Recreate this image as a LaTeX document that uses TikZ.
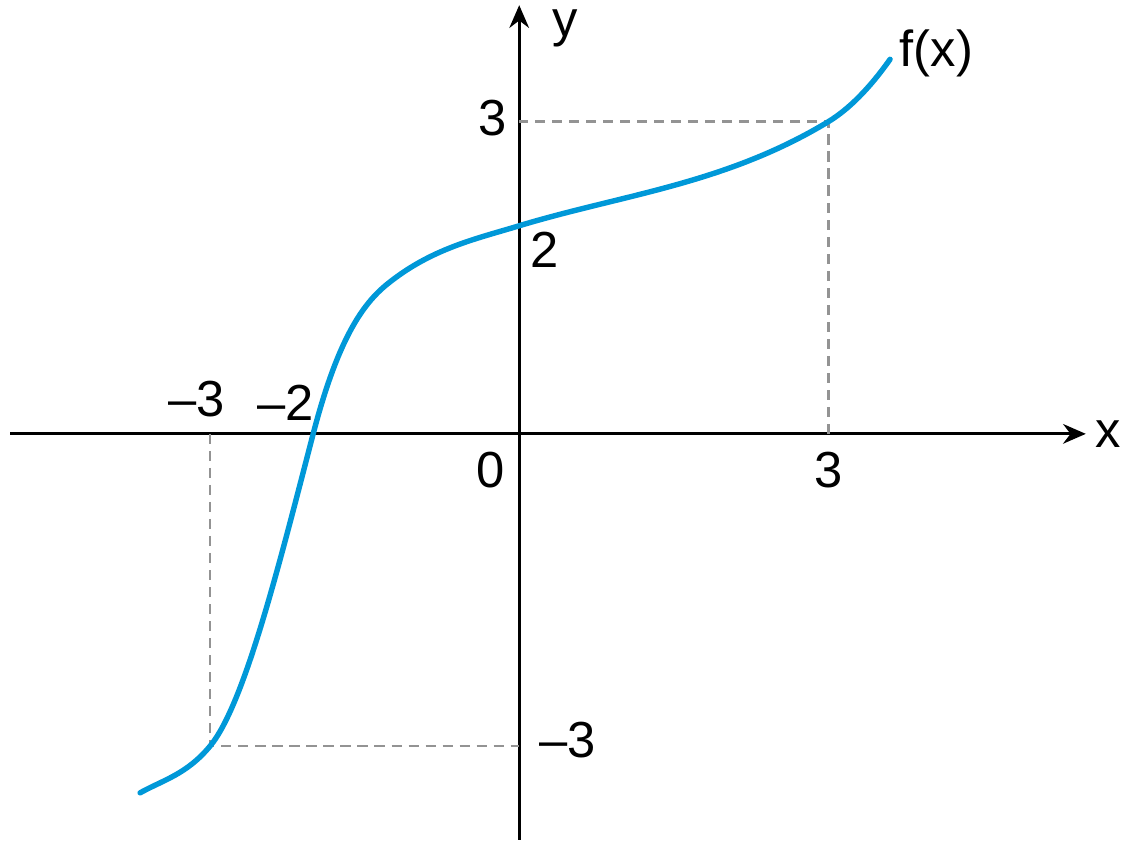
\documentclass[tikz,border=0pt]{standalone}
\usepackage{fontspec}
\setmainfont{Liberation Sans}
\usetikzlibrary{arrows.meta,positioning}
\definecolor{curveblue}{RGB}{0,152,216}

\begin{document}
\begin{tikzpicture}[y=1.01cm,
  axis/.style={-{Stealth[length=2.2mm, width=1.9mm]}, line width=0.9pt},
  guide/.style={gray!85, line width=0.7pt, dash pattern=on 2.8pt off 1.9pt},
  graph/.style={curveblue, line width=1.5pt, line cap=round},
  lab/.style={font=\fontsize{14}{16}\selectfont, inner sep=0pt}]
\useasboundingbox (-5.04,-3.95) rectangle (5.89,4.17);
% Axes
\coordinate (xl) at (-4.94,0);
\coordinate (xr) at (5.5,0);
\coordinate (yb) at (0,-3.9);
\coordinate (yt) at (0,4.12);
\draw[axis] (xl) -- (xr);
\draw[axis] (yb) -- (yt);
\node[lab] (xlab) at (5.72,0) {x};
\node[lab] (ylab) at (0.45,3.9) {y};
% Guide lines
\coordinate (a3) at (3,0);
\coordinate (p3) at (3,3);
\coordinate (b3) at (0,3);
\coordinate (am3) at (-3,0);
\coordinate (pm3) at (-3,-3);
\coordinate (bm3) at (0,-3);
\draw[guide] (a3) -- (p3) -- (b3);
\draw[guide] (am3) -- (pm3) -- (bm3);
% Curve
\coordinate (c0) at (-3.68,-3.45);
\coordinate (cz) at (-2,0);
\coordinate (cb) at (-1.28,1.44);
\coordinate (c2) at (0,2);
\coordinate (c4) at (3.6,3.6);
\draw[graph] (c0) .. controls (-3.453,-3.325) and (-3.227,-3.272) .. (pm3)
  .. controls (-2.667,-2.6) and (-2.333,-1.267) .. (cz)
  .. controls (-1.76,0.912) and (-1.52,1.248) .. (cb)
  .. controls (-0.853,1.781) and (-0.427,1.872) .. (c2)
  .. controls (1,2.3) and (2,2.4) .. (p3)
  .. controls (3.2,3.12) and (3.4,3.32) .. (c4);
\node[lab] (flab) at (4.05,3.66) {f(x)};
% Tick labels
\node[lab] (tx3) at (3,-0.35) {3};
\node[lab] (tx0) at (-0.28,-0.35) {0};
\node[lab] (txm2) at (-2.27,0.3) {--2};
\node[lab] (txm3) at (-3.13,0.33) {--3};
\node[lab] (ty3) at (-0.26,3.04) {3};
\node[lab] (ty2) at (0.25,1.77) {2};
\node[lab] (tym3) at (0.47,-2.94) {--3};
\end{tikzpicture}
\end{document}
